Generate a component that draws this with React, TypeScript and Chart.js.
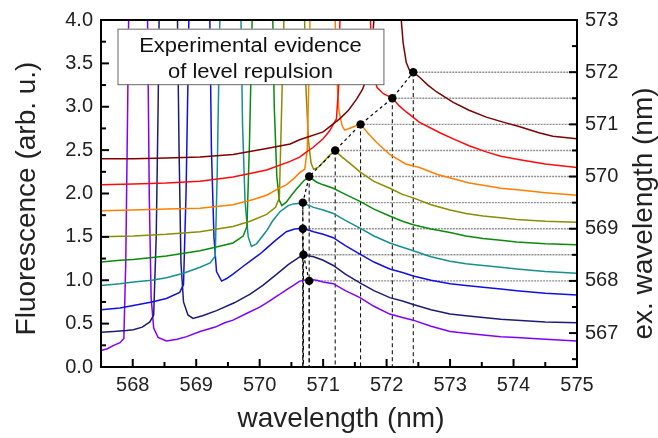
import React, { useEffect, useRef } from 'react';
import { Chart, registerables } from 'chart.js';

Chart.register(...registerables);

type Pt = [number, number];

// ---- tick values ----
const xTicks = [568, 569, 570, 571, 572, 573, 574, 575];
const xMinorTicks = [568.5, 569.5, 570.5, 571.5, 572.5, 573.5, 574.5];
const yTicks = [0, 0.5, 1, 1.5, 2, 2.5, 3, 3.5, 4];
const yMinorTicks = [0.25, 0.75, 1.25, 1.75, 2.25, 2.75, 3.25, 3.75];
const y2Ticks = [567, 568, 569, 570, 571, 572, 573];
const y2MinorTicks = [566.5, 567.5, 568.5, 569.5, 570.5, 571.5, 572.5];

// ---- labels ----
const xTitle = 'wavelength (nm)';
const yTitle = 'Fluorescence (arb. u.)';
const y2Title = 'ex. wavelength (nm)';
const boxLines = ['Experimental evidence', 'of level repulsion'];

// ---- fluorescence peak positions vs excitation wavelength ----
const exWavelength = [568, 568.5, 569, 569.5, 570, 570.5, 571, 571.5, 572];
const peakX = [570.78, 570.69, 570.68, 570.68, 570.78, 571.19, 571.59, 572.09, 572.42];

// ---- spectra (wavelength nm, fluorescence) ----
const violet: Pt[] = [[567.5,0.19],[567.6,0.21],[567.7,0.25],[567.8,0.28],[567.86,0.33],[567.89,1.2],[567.92,3.0],[567.94,4.3],[568.08,9],[568.23,4.3],[568.26,2.0],[568.29,0.8],[568.33,0.45],[568.4,0.34],[568.53,0.30],[568.7,0.32],[568.85,0.35],[569.06,0.41],[569.3,0.46],[569.45,0.51],[569.58,0.54],[569.8,0.62],[570.0,0.69],[570.11,0.74],[570.3,0.83],[570.42,0.89],[570.55,0.95],[570.63,0.99],[570.78,1.01],[570.9,1.0],[571.0,0.98],[571.16,0.96],[571.35,0.88],[571.58,0.80],[571.8,0.70],[572.05,0.61],[572.25,0.57],[572.42,0.54],[572.7,0.47],[573.0,0.41],[573.25,0.39],[573.52,0.37],[573.8,0.35],[574.05,0.34],[574.5,0.32],[575.0,0.30]];
const navy: Pt[] = [[567.5,0.40],[567.7,0.41],[567.9,0.42],[568.01,0.43],[568.15,0.46],[568.27,0.52],[568.33,0.60],[568.37,1.5],[568.40,3.0],[568.42,4.3],[568.55,9],[568.70,4.3],[568.73,2.5],[568.76,1.2],[568.80,0.75],[568.87,0.60],[568.95,0.56],[569.1,0.59],[569.32,0.65],[569.6,0.74],[569.85,0.84],[570.05,0.94],[570.27,1.07],[570.45,1.18],[570.63,1.27],[570.69,1.29],[570.85,1.27],[571.0,1.23],[571.16,1.17],[571.35,1.07],[571.58,0.97],[571.8,0.88],[572.05,0.80],[572.25,0.76],[572.42,0.72],[572.7,0.66],[573.0,0.61],[573.25,0.59],[573.52,0.57],[573.8,0.55],[574.05,0.54],[574.5,0.52],[575.0,0.51]];
const blue: Pt[] = [[567.5,0.66],[567.8,0.68],[568.01,0.71],[568.3,0.75],[568.53,0.79],[568.74,0.86],[568.80,0.95],[568.84,2.0],[568.87,3.3],[568.89,4.3],[569.05,9],[569.21,4.3],[569.24,2.5],[569.28,1.5],[569.32,1.1],[569.40,0.99],[569.48,1.02],[569.58,1.07],[569.72,1.15],[569.85,1.22],[570.0,1.30],[570.11,1.37],[570.25,1.46],[570.42,1.56],[570.55,1.59],[570.68,1.60],[570.85,1.56],[571.0,1.53],[571.16,1.49],[571.35,1.40],[571.58,1.30],[571.8,1.21],[572.05,1.13],[572.25,1.09],[572.42,1.05],[572.7,1.00],[573.0,0.96],[573.25,0.94],[573.52,0.92],[573.8,0.90],[574.05,0.88],[574.5,0.85],[575.0,0.83]];
const teal: Pt[] = [[567.5,0.94],[567.8,0.96],[568.01,0.98],[568.3,1.00],[568.53,1.03],[568.8,1.08],[569.06,1.15],[569.22,1.20],[569.30,1.28],[569.33,2.2],[569.36,3.5],[569.38,4.3],[569.54,9],[569.70,4.3],[569.73,2.8],[569.77,1.9],[569.82,1.5],[569.87,1.39],[569.95,1.42],[570.11,1.57],[570.2,1.68],[570.32,1.79],[570.45,1.86],[570.53,1.88],[570.68,1.89],[570.85,1.84],[571.0,1.81],[571.16,1.77],[571.35,1.69],[571.58,1.60],[571.8,1.51],[572.05,1.43],[572.25,1.38],[572.42,1.34],[572.7,1.27],[573.0,1.22],[573.25,1.19],[573.52,1.17],[573.8,1.15],[574.05,1.13],[574.5,1.10],[575.0,1.08]];
const green: Pt[] = [[567.5,1.21],[567.8,1.23],[568.01,1.24],[568.53,1.28],[569.06,1.34],[569.3,1.38],[569.58,1.43],[569.74,1.51],[569.80,1.62],[569.84,2.6],[569.87,3.6],[569.89,4.3],[570.04,9],[570.20,4.3],[570.23,3.0],[570.27,2.2],[570.31,1.92],[570.35,1.86],[570.42,1.90],[570.5,1.98],[570.6,2.07],[570.7,2.15],[570.78,2.19],[570.9,2.13],[571.0,2.10],[571.16,2.06],[571.35,1.99],[571.58,1.91],[571.8,1.82],[572.05,1.74],[572.25,1.68],[572.42,1.64],[572.7,1.59],[573.0,1.55],[573.25,1.51],[573.52,1.48],[573.8,1.46],[574.05,1.44],[574.5,1.42],[575.0,1.41]];
const olive: Pt[] = [[567.5,1.50],[568.01,1.51],[568.53,1.53],[569.06,1.56],[569.58,1.62],[569.85,1.68],[570.11,1.76],[570.25,1.84],[570.31,1.95],[570.34,2.8],[570.37,3.7],[570.38,4.3],[570.54,9],[570.70,4.3],[570.73,3.2],[570.77,2.6],[570.81,2.35],[570.85,2.28],[570.92,2.30],[571.0,2.36],[571.1,2.44],[571.19,2.49],[571.3,2.42],[571.45,2.33],[571.58,2.25],[571.8,2.14],[572.05,2.06],[572.25,1.99],[572.42,1.95],[572.7,1.87],[573.0,1.81],[573.25,1.77],[573.52,1.74],[573.8,1.72],[574.05,1.70],[574.5,1.68],[575.0,1.67]];
const orange: Pt[] = [[567.5,1.80],[568.01,1.81],[568.53,1.82],[569.06,1.83],[569.58,1.87],[569.9,1.93],[570.11,1.98],[570.3,2.06],[570.42,2.10],[570.55,2.18],[570.63,2.24],[570.71,2.28],[570.75,2.5],[570.78,3.5],[570.80,4.3],[570.99,9],[571.18,4.3],[571.21,3.4],[571.25,2.95],[571.3,2.78],[571.34,2.73],[571.45,2.76],[571.59,2.80],[571.7,2.70],[571.84,2.59],[572.05,2.45],[572.3,2.34],[572.52,2.30],[572.8,2.22],[573.05,2.17],[573.3,2.12],[573.57,2.09],[573.8,2.06],[574.1,2.04],[574.5,2.01],[575.0,1.98]];
const red: Pt[] = [[567.5,2.10],[568.01,2.11],[568.53,2.12],[569.06,2.14],[569.58,2.19],[570.11,2.27],[570.48,2.37],[570.63,2.42],[570.74,2.48],[570.84,2.53],[571.0,2.63],[571.1,2.72],[571.21,2.86],[571.25,3.3],[571.27,4.3],[571.5,9],[571.73,4.3],[571.76,3.7],[571.8,3.35],[571.85,3.22],[571.95,3.15],[572.09,3.10],[572.2,3.01],[572.31,2.94],[572.52,2.82],[572.84,2.70],[573.05,2.63],[573.3,2.55],[573.57,2.48],[573.8,2.43],[574.1,2.39],[574.5,2.34],[575.0,2.30]];
const darkRed: Pt[] = [[567.5,2.40],[568.01,2.40],[568.53,2.41],[569.06,2.42],[569.58,2.45],[570.11,2.52],[570.48,2.57],[570.63,2.62],[571.0,2.71],[571.26,2.86],[571.4,2.96],[571.53,3.09],[571.62,3.2],[571.68,3.32],[571.74,3.55],[571.78,3.8],[571.81,4.1],[572.0,7],[572.22,4.1],[572.26,3.74],[572.31,3.51],[572.36,3.42],[572.42,3.40],[572.52,3.34],[572.65,3.25],[572.79,3.17],[573.05,3.05],[573.3,2.96],[573.57,2.88],[573.85,2.82],[574.1,2.77],[574.4,2.70],[574.62,2.66],[575.0,2.63]];

const seriesList: Pt[][] = [violet, navy, blue, teal, green, olive, orange, red, darkRed];
const seriesColors = ['#8000FF', '#1C1C78', '#1010E6', '#15908F', '#0B8A0B', '#8C8C00', '#FF8000', '#FF0A0A', '#800000'];

const FONT = "'Liberation Sans', Arial, sans-serif";

const decorPlugin = {
  id: 'decor',
  beforeDatasetsDraw(chart: any) {
    const { ctx, chartArea: a, scales } = chart;
    const xs = scales.x;
    const y2 = scales.y2;
    ctx.save();
    ctx.beginPath();
    ctx.rect(a.left, a.top, a.right - a.left, a.bottom - a.top);
    ctx.clip();
    ctx.strokeStyle = '#8f8f8f';
    ctx.lineWidth = 1.4;
    ctx.setLineDash([2, 1]);
    peakX.forEach((v, i) => {
      const px = xs.getPixelForValue(v);
      const py = y2.getPixelForValue(exWavelength[i]);
      ctx.beginPath();
      ctx.moveTo(px, py);
      ctx.lineTo(a.right, py);
      ctx.stroke();
    });
    ctx.strokeStyle = '#000';
    ctx.lineWidth = 1;
    ctx.setLineDash([4, 3]);
    peakX.forEach((v, i) => {
      const px = xs.getPixelForValue(v);
      const py = y2.getPixelForValue(exWavelength[i]);
      ctx.beginPath();
      ctx.moveTo(px, py);
      ctx.lineTo(px, a.bottom);
      ctx.stroke();
    });
    ctx.restore();
  },
  afterDatasetsDraw(chart: any) {
    const { ctx, chartArea: a, scales } = chart;
    const xs = scales.x;
    const ys = scales.y;
    const y2 = scales.y2;
    ctx.save();
    // annotation box
    const bx = xs.getPixelForValue(567.76);
    const bx2 = xs.getPixelForValue(571.95);
    const by = ys.getPixelForValue(3.9);
    const by2 = ys.getPixelForValue(3.26);
    ctx.fillStyle = '#fff';
    ctx.fillRect(bx, by, bx2 - bx, by2 - by);
    ctx.strokeStyle = '#666';
    ctx.lineWidth = 1;
    ctx.setLineDash([]);
    ctx.strokeRect(bx + 0.5, by + 0.5, bx2 - bx, by2 - by);
    ctx.fillStyle = '#111';
    ctx.font = `20px ${FONT}`;
    ctx.textAlign = 'center';
    ctx.textBaseline = 'alphabetic';
    const cx = (bx + bx2) / 2;
    [by + 23, by + 49].forEach((yy, i) => {
      ctx.save();
      ctx.translate(cx, yy);
      ctx.scale(1.1, 1);
      ctx.fillText(boxLines[i], 0, 0);
      ctx.restore();
    });
    // frame
    ctx.strokeStyle = '#000';
    ctx.lineWidth = 2;
    ctx.strokeRect(a.left, a.top, a.right - a.left, a.bottom - a.top);
    // inward ticks
    const tick = (x1: number, y1: number, x2: number, y2p: number) => {
      ctx.beginPath();
      ctx.moveTo(x1, y1);
      ctx.lineTo(x2, y2p);
      ctx.stroke();
    };
    ctx.lineWidth = 2;
    xTicks.forEach((v) => { const p = xs.getPixelForValue(v); tick(p, a.bottom, p, a.bottom - 8); });
    xMinorTicks.forEach((v) => { const p = xs.getPixelForValue(v); tick(p, a.bottom, p, a.bottom - 5); });
    yTicks.forEach((v) => { const p = ys.getPixelForValue(v); tick(a.left, p, a.left + 8, p); });
    yMinorTicks.forEach((v) => { const p = ys.getPixelForValue(v); tick(a.left, p, a.left + 5, p); });
    y2Ticks.forEach((v) => { const p = y2.getPixelForValue(v); tick(a.right, p, a.right - 8, p); });
    y2MinorTicks.forEach((v) => { const p = y2.getPixelForValue(v); tick(a.right, p, a.right - 5, p); });
    ctx.restore();
  },
  afterDraw(chart: any) {
    const { ctx, chartArea: a } = chart;
    ctx.save();
    ctx.fillStyle = '#222';
    ctx.font = `28px ${FONT}`;
    ctx.textAlign = 'center';
    ctx.textBaseline = 'middle';
    ctx.fillText(xTitle, (a.left + a.right) / 2 + 2, a.bottom + 52);
    ctx.save();
    ctx.translate(a.left - 74, (a.top + a.bottom) / 2 + 5);
    ctx.rotate(-Math.PI / 2);
    ctx.fillText(yTitle, 0, 0);
    ctx.restore();
    ctx.save();
    ctx.translate(a.right + 67, (a.top + a.bottom) / 2 + 20);
    ctx.rotate(-Math.PI / 2);
    ctx.fillText(y2Title, 0, 0);
    ctx.restore();
    ctx.restore();
  },
};

export default function App() {
  const ref = useRef<HTMLCanvasElement | null>(null);

  useEffect(() => {
    if (!ref.current) return;
    const tickFont = { family: FONT, size: 20 };
    const datasets: any[] = [
      {
        data: peakX.map((x, i) => ({ x, y: exWavelength[i] })),
        yAxisID: 'y2',
        showLine: true,
        borderColor: '#000',
        borderWidth: 1.2,
        borderDash: [3, 3],
        pointRadius: 4.2,
        pointBackgroundColor: '#000',
        pointBorderWidth: 0,
        clip: 0,
      },
      ...seriesList
        .map((s, i) => ({
          data: s.map(([x, y]) => ({ x, y })),
          yAxisID: 'y',
          showLine: true,
          borderColor: seriesColors[i],
          borderWidth: 1.5,
          pointRadius: 0,
          fill: false,
          tension: 0,
          clip: 0,
        }))
        .reverse(),
    ];
    const chart = new Chart(ref.current, {
      type: 'scatter',
      data: { datasets },
      options: {
        animation: false,
        responsive: false,
        devicePixelRatio: 1,
        layout: { padding: { top: 17, left: 0, right: 0, bottom: 0 } },
        plugins: { legend: { display: false }, tooltip: { enabled: false } },
        events: [],
        scales: {
          x: {
            type: 'linear',
            min: 567.5,
            max: 575,
            grid: { display: false, drawTicks: false },
            border: { display: false },
            afterBuildTicks: (s: any) => { s.ticks = xTicks.map((value) => ({ value })); },
            afterFit: (s: any) => { s.height = 71; },
            ticks: { font: tickFont, color: '#222', padding: 6, maxRotation: 0, autoSkip: false, callback: (v: any) => String(v) },
          },
          y: {
            type: 'linear',
            position: 'left',
            min: 0,
            max: 4,
            grid: { display: false, drawTicks: false },
            border: { display: false },
            afterBuildTicks: (s: any) => { s.ticks = yTicks.map((value) => ({ value })); },
            afterFit: (s: any) => { s.width = 101; },
            ticks: { font: tickFont, color: '#222', padding: 8, autoSkip: false, callback: (v: any) => Number(v).toFixed(1) },
          },
          y2: {
            type: 'linear',
            position: 'right',
            min: 566.35,
            max: 573,
            grid: { display: false, drawTicks: false },
            border: { display: false },
            afterBuildTicks: (s: any) => { s.ticks = y2Ticks.map((value) => ({ value })); },
            afterFit: (s: any) => { s.width = 81; },
            ticks: { font: tickFont, color: '#222', padding: 8, autoSkip: false, callback: (v: any) => String(v) },
          },
        },
      } as any,
      plugins: [decorPlugin],
    });
    return () => chart.destroy();
  }, []);

  return (
    <div style={{ position: 'fixed', left: 0, top: 0, width: 658, height: 438, background: '#fff' }}>
      <canvas ref={ref} width={658} height={438} style={{ display: 'block', width: 658, height: 438 }} />
    </div>
  );
}
